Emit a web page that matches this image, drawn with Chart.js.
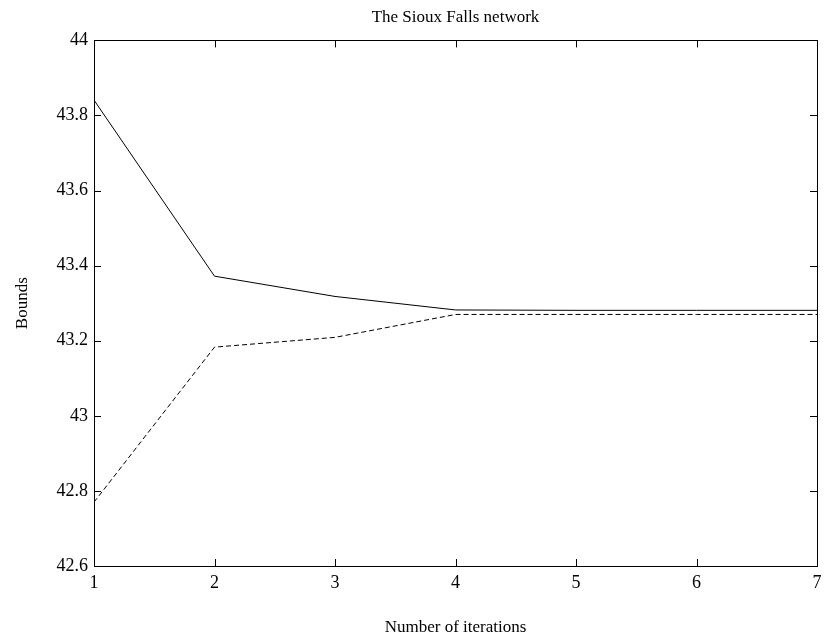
<!DOCTYPE html>
<html>
<head>
<meta charset="utf-8">
<script src="https://cdn.jsdelivr.net/npm/chart.js@4"></script>
<style>
  html, body { margin: 0; padding: 0; background: #fff; }
  #wrap { width: 825px; height: 644px; }
</style>
</head>
<body>
<div id="wrap"><canvas id="boundsChart" width="825" height="644"></canvas></div>
<script>
// iterations and the two bound series
const iterations = [1, 2, 3, 4, 5, 6, 7];
const upperBound = [43.841, 43.372, 43.318, 43.282, 43.281, 43.281, 43.281];
const lowerBound = [42.77, 43.183, 43.209, 43.270, 43.270, 43.270, 43.270];
const yTicks = [42.6, 42.8, 43, 43.2, 43.4, 43.6, 43.8, 44];

const serif = 'Liberation Serif, Times New Roman, serif';

// ticks pointing inward on all four sides plus the box frame
const boxTicks = {
    id: 'boxTicks',
    afterLayout(chart) {
        // centre the title over the plot box, not the whole canvas
        if (chart.titleBlock) {
            chart.titleBlock.left = chart.chartArea.left;
            chart.titleBlock.right = chart.chartArea.right;
        }
    },
    afterDraw(chart) {
        const { ctx, chartArea: a, scales } = chart;
        const len = 7;
        ctx.save();
        ctx.strokeStyle = '#000';
        ctx.lineWidth = 1;
        ctx.beginPath();
        scales.x.ticks.forEach((t, i) => {
            const px = Math.round(scales.x.getPixelForTick(i)) + 0.5;
            ctx.moveTo(px, a.bottom); ctx.lineTo(px, a.bottom - len);
            ctx.moveTo(px, a.top); ctx.lineTo(px, a.top + len);
        });
        scales.y.ticks.forEach((t, i) => {
            const py = Math.round(scales.y.getPixelForTick(i)) + 0.5;
            ctx.moveTo(a.left, py); ctx.lineTo(a.left + len, py);
            ctx.moveTo(a.right, py); ctx.lineTo(a.right - len, py);
        });
        ctx.stroke();
        ctx.strokeRect(Math.round(a.left) + 0.5, Math.round(a.top) + 0.5,
            Math.round(a.right - a.left), Math.round(a.bottom - a.top));
        ctx.restore();
    }
};

const chart = new Chart(document.getElementById('boundsChart').getContext('2d'), {
    type: 'line',
    data: {
        datasets: [{
            label: 'Upper bound',
            data: iterations.map((x, i) => ({ x: x, y: upperBound[i] })),
            borderColor: '#000',
            borderWidth: 1,
            pointRadius: 0,
            fill: false,
            tension: 0
        }, {
            label: 'Lower bound',
            data: iterations.map((x, i) => ({ x: x, y: lowerBound[i] })),
            borderColor: '#000',
            borderWidth: 1,
            borderDash: [5, 3],
            pointRadius: 0,
            fill: false,
            tension: 0
        }]
    },
    options: {
        responsive: false,
        animation: false,
        devicePixelRatio: 1,
        layout: { padding: { top: 0, right: 8, bottom: 0, left: 0 } },
        plugins: {
            legend: { display: false },
            tooltip: { enabled: false },
            title: {
                display: true,
                text: 'The Sioux Falls network',
                color: '#000',
                font: { family: serif, size: 17, weight: 'normal' },
                padding: { top: 7, bottom: 13 }
            }
        },
        scales: {
            x: {
                type: 'linear',
                min: 1,
                max: 7,
                ticks: {
                    stepSize: 1,
                    color: '#000',
                    padding: 6,
                    font: { family: serif, size: 18 }
                },
                grid: { display: false, drawTicks: false },
                border: { display: false },
                title: {
                    display: true,
                    text: 'Number of iterations',
                    color: '#000',
                    font: { family: serif, size: 17 },
                    padding: { top: 0, bottom: 6 }
                },
                afterFit(scale) {
                    scale.height = 78;
                    scale.paddingLeft = 0;
                    scale.paddingRight = 0;
                }
            },
            y: {
                min: 42.6,
                max: 44,
                afterBuildTicks(scale) {
                    scale.ticks = yTicks.map(v => ({ value: v }));
                },
                ticks: {
                    color: '#000',
                    padding: 6,
                    font: { family: serif, size: 18 },
                    callback: v => String(Math.round(v * 10) / 10)
                },
                grid: { display: false, drawTicks: false },
                border: { display: false },
                title: {
                    display: true,
                    text: 'Bounds',
                    color: '#000',
                    font: { family: serif, size: 17 },
                    padding: { top: 12, bottom: 0 }
                },
                afterFit(scale) { scale.width = 94; }
            }
        }
    },
    plugins: [boxTicks]
});
</script>
</body>
</html>
